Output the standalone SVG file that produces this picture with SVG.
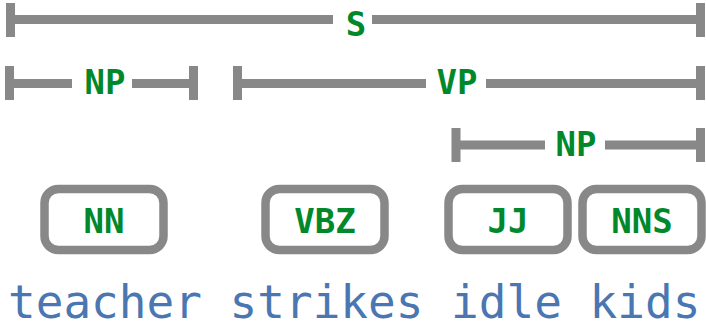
<svg xmlns="http://www.w3.org/2000/svg" width="706" height="325" viewBox="0 0 706 325">
<style>
.br{stroke:#888888;stroke-width:9;fill:none;stroke-linecap:butt}
.box{stroke:#888888;stroke-width:8.5;fill:#ffffff}
.lab{font-family:"DejaVu Sans Mono",monospace;font-weight:bold;font-size:34px;fill:#00882b;text-anchor:middle}
.word{font-family:"DejaVu Sans Mono",monospace;font-size:46px;fill:#4a76b2}
</style>
<rect width="706" height="325" fill="#ffffff"/>
<g id="connectors">
<g id="br-S">
<path class="br" d="M10.5 3V37M700.5 3V37M10.5 19.5H333M372 19.5H700.5"/>
<text class="lab" x="356" y="36">S</text>
</g>
<g id="br-NP1">
<path class="br" d="M9.5 66V100M193.5 66V100M9.5 83.5H72M132 83.5H193.5"/>
<text class="lab" x="105" y="94">NP</text>
</g>
<g id="br-VP">
<path class="br" d="M237.5 66V100M700.5 66V100M237.5 83.5H426M486 83.5H700.5"/>
<text class="lab" x="457" y="94">VP</text>
</g>
<g id="br-NP2">
<path class="br" d="M456 128V162M700.5 128V162M456 145H545M605 145H700.5"/>
<text class="lab" x="576" y="156">NP</text>
</g>
</g>
<g id="node-NN">
<rect class="box" x="44.5" y="189" width="119" height="61" rx="14"/>
<text class="lab" x="104" y="233">NN</text>
</g>
<g id="node-VBZ">
<rect class="box" x="265.5" y="189" width="119" height="61" rx="14"/>
<text class="lab" x="325" y="233">VBZ</text>
</g>
<g id="node-JJ">
<rect class="box" x="448.5" y="189" width="119" height="61" rx="14"/>
<text class="lab" x="508" y="233">JJ</text>
</g>
<g id="node-NNS">
<rect class="box" x="582.5" y="189" width="119" height="61" rx="14"/>
<text class="lab" x="642" y="233">NNS</text>
</g>
<g id="words">
<text class="word" x="8" y="318">teacher strikes idle kids</text>
</g>
</svg>
